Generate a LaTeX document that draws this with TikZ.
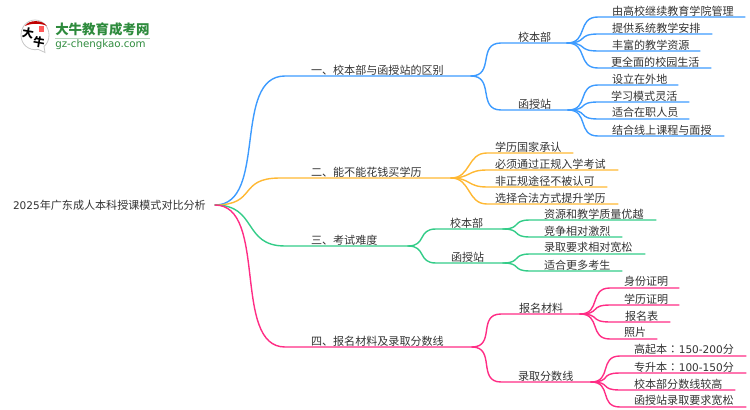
\documentclass[tikz,border=0pt]{standalone}
\usepackage{fontspec}
\setmainfont{Noto Sans CJK SC}
\newfontfamily\logolat{DejaVu Sans}
\newfontfamily\cjktc{Noto Sans CJK TC}
\usetikzlibrary{calc}
\definecolor{cblue}{HTML}{3D9BFF}
\definecolor{corange}{HTML}{FFB833}
\definecolor{cgreen}{HTML}{33CC88}
\definecolor{cpink}{HTML}{FF2D85}
\definecolor{ctext}{HTML}{333333}
\definecolor{clogo}{HTML}{2E8B3D}
\newcommand\dg[1]{{\logolat\fontsize{7.9}{10}\selectfont #1}}
\newcommand\wcolon{\hspace{0.2pt}{\cjktc ：}\hspace{0.2pt}}
\tikzset{
  wire/.style={line width=1.05pt,line cap=round,line join=round},
  lab/.style={anchor=west,inner sep=0pt,outer sep=0pt,text=ctext,font=\fontsize{8.3}{10}\selectfont},
}
% #1 name, #2 colour, #3 parent, #4 curve end x, #5 line end x, #6 y, #7 text x, #8 text, #9 bend
\newcommand\twig[9]{%
  \coordinate (#1s) at (#4,#6);
  \coordinate (#1) at (#5,#6);
  \draw[wire,#2] (#3) to[out=0,in=180,distance=#9] (#1s) -- (#1);
  \node[lab] (#1t) at (#7,#6-6.2) {#8};
}
\begin{document}
\begin{tikzpicture}[x=0.75pt,y=-0.75pt]
\useasboundingbox (0,0) rectangle (750,410);
% logo
\draw[black!22,line width=0.6pt,fill=white] (35,20)
  .. controls (43,20) and (49,27) .. (49,35)
  .. controls (49,40) and (47,44) .. (44,46.5)
  -- (45,52.5) -- (38.5,49.5)
  .. controls (28,51) and (21,44) .. (21,35)
  .. controls (21,27) and (27,20) .. (35,20) -- cycle;
\fill[red!75!black] (25,26) .. controls (29,19.5) and (42,19.5) .. (47,26) .. controls (41,23) and (31,23) .. (25,26) -- cycle;
\fill[red!65!white] (38.5,26) rectangle (44,32);
\node[inner sep=0pt,rotate=-10,font=\fontsize{8.6}{10}\selectfont\bfseries] (logoa) at (28,33) {大};
\node[inner sep=0pt,rotate=-10,font=\fontsize{8.6}{10}\selectfont\bfseries] (logob) at (39,42.5) {牛};
\node[inner sep=0pt,anchor=west,text=clogo,font=\fontsize{10.1}{12}\selectfont\bfseries] (logoc) at (55,29) {大牛教育成考网};
\draw[clogo!35,line width=0.5pt] (55,38.5) -- (150,38.5);
\node[inner sep=0pt,anchor=west,text=clogo,font=\logolat\fontsize{7.7}{10}\selectfont] (logod) at (55,45) {gz-chengkao.com};
% root
\coordinate (root) at (215,205);
\node[lab] (roott) at (13,205) {\dg{2025}年广东成人本科授课模式对比分析};
% branch 1
\twig{ba}{cblue}{root}{285}{471}{76}{311}{一、校本部与函授站的区别}{40pt}
\twig{baa}{cblue}{ba}{501}{567}{43}{518}{校本部}{18pt}
\twig{baa1}{cblue}{baa}{598}{745}{17}{612}{由高校继续教育学院管理}{16pt}
\twig{baa2}{cblue}{baa}{598}{712}{34}{612}{提供系统教学安排}{16pt}
\twig{baa3}{cblue}{baa}{598}{700}{51}{612}{丰富的教学资源}{16pt}
\twig{baa4}{cblue}{baa}{598}{711}{68}{611}{更全面的校园生活}{16pt}
\twig{bab}{cblue}{ba}{501}{568}{110}{518}{函授站}{18pt}
\twig{bab1}{cblue}{bab}{598}{678}{85}{612}{设立在外地}{16pt}
\twig{bab2}{cblue}{bab}{598}{689}{102}{611}{学习模式灵活}{16pt}
\twig{bab3}{cblue}{bab}{598}{689}{119}{612}{适合在职人员}{16pt}
\twig{bab4}{cblue}{bab}{598}{724}{136}{612}{结合线上课程与面授}{16pt}
% branch 2
\twig{bb}{corange}{root}{280}{451}{178}{311}{二、能不能花钱买学历}{32pt}
\twig{bb1}{corange}{bb}{487}{573}{153}{495}{学历国家承认}{15pt}
\twig{bb2}{corange}{bb}{487}{618}{170}{495}{必须通过正规入学考试}{15pt}
\twig{bb3}{corange}{bb}{487}{607}{187}{495}{非正规途径不被认可}{15pt}
\twig{bb4}{corange}{bb}{487}{618}{204}{495}{选择合法方式提升学历}{15pt}
% branch 3
\twig{bc}{cgreen}{root}{285}{408}{246}{311}{三、考试难度}{32pt}
\twig{bca}{cgreen}{bc}{436}{503}{229}{450}{校本部}{14pt}
\twig{bca1}{cgreen}{bca}{530}{656}{220}{544}{资源和教学质量优越}{14pt}
\twig{bca2}{cgreen}{bca}{530}{622}{237}{544}{竞争相对激烈}{14pt}
\twig{bcb}{cgreen}{bc}{436}{503}{263}{451}{函授站}{14pt}
\twig{bcb1}{cgreen}{bcb}{530}{645}{254}{544}{录取要求相对宽松}{14pt}
\twig{bcb2}{cgreen}{bcb}{530}{622}{271}{544}{适合更多考生}{14pt}
% branch 4
\twig{bd}{cpink}{root}{285}{472}{347}{311}{四、报名材料及录取分数线}{40pt}
\twig{bda}{cpink}{bd}{501}{580}{314}{519}{报名材料}{18pt}
\twig{bda1}{cpink}{bda}{610}{679}{288}{624}{身份证明}{16pt}
\twig{bda2}{cpink}{bda}{610}{679}{305}{624}{学历证明}{16pt}
\twig{bda3}{cpink}{bda}{610}{670}{322}{625}{报名表}{16pt}
\twig{bda4}{cpink}{bda}{610}{657}{339}{624}{照片}{16pt}
\twig{bdb}{cpink}{bd}{501}{591}{382}{518}{录取分数线}{18pt}
\twig{bdb1}{cpink}{bdb}{620}{746}{356}{634}{高起本\wcolon\dg{150-200}分}{16pt}
\twig{bdb2}{cpink}{bdb}{620}{746}{373}{634}{专升本\wcolon\dg{100-150}分}{16pt}
\twig{bdb3}{cpink}{bdb}{620}{735}{390}{634}{校本部分数线较高}{16pt}
\twig{bdb4}{cpink}{bdb}{620}{746}{407}{634}{函授站录取要求宽松}{16pt}
\end{tikzpicture}
\end{document}
